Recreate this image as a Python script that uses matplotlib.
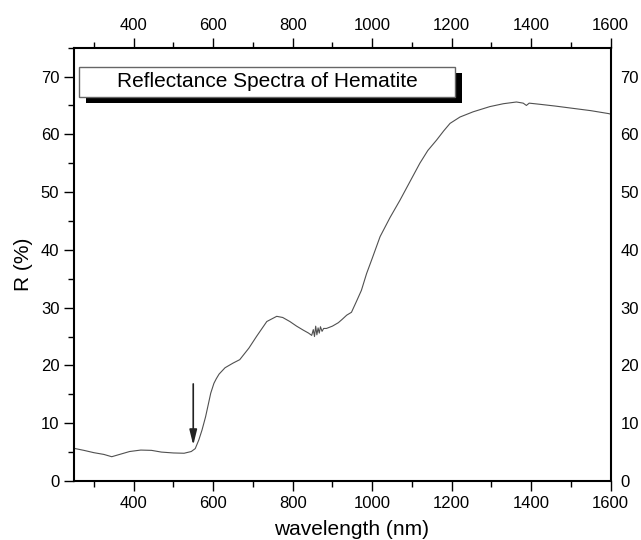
import matplotlib
matplotlib.use("Agg")
import matplotlib.pyplot as plt
from matplotlib.patches import Rectangle
from matplotlib.ticker import MultipleLocator

plt.rcParams['font.family'] = ['Liberation Sans', 'DejaVu Sans']

title = "Reflectance Spectra of Hematite"
x_label = "wavelength (nm)"
y_label = "R (%)"

wavelength = [250, 275, 300, 325, 345, 365, 390, 418, 445, 470, 500, 527, 545, 555,
              564, 572, 581, 588, 594, 602, 608, 615, 630, 650, 667, 690, 709, 735,
              760, 775, 793, 810, 827, 840, 848, 852, 855, 858, 861, 864, 867, 870,
              874, 878, 885, 900, 915, 925, 936, 948, 960, 973, 986, 1000, 1020,
              1045, 1070, 1095, 1120, 1140, 1162, 1180, 1196, 1221, 1254, 1296,
              1330, 1363, 1380, 1388, 1395, 1422, 1460, 1505, 1550, 1594, 1600]
reflectance = [5.65, 5.3, 4.9, 4.6, 4.2, 4.6, 5.1, 5.35, 5.3, 5.0, 4.85, 4.8, 5.1, 5.6,
               7.1, 8.8, 11.1, 13.3, 15.2, 16.9, 17.7, 18.5, 19.6, 20.4, 21.0, 23.0,
               25.0, 27.6, 28.5, 28.3, 27.6, 26.8, 26.1, 25.6, 25.2, 26.2, 25.0, 26.8,
               25.3, 26.5, 25.6, 26.7, 25.9, 26.4, 26.4, 26.8, 27.4, 28.0, 28.7, 29.2,
               31.0, 33.0, 35.9, 38.5, 42.3, 45.6, 48.6, 51.8, 55.0, 57.2, 59.0, 60.6,
               61.9, 63.0, 63.9, 64.8, 65.3, 65.6, 65.4, 65.0, 65.4, 65.2, 64.9, 64.5,
               64.1, 63.6, 63.5]

arrow_x = 550
arrow_top = 16.8
arrow_tip = 6.2

fig = plt.figure(figsize=(6.41, 5.40), dpi=100)
ax = fig.add_axes([0.1154, 0.1093, 0.8373, 0.8024])

ax.plot(wavelength, reflectance, color='#505050', lw=0.8)
ax.set_xlim(250, 1600)
ax.set_ylim(0, 75)

ax.annotate('', xy=(arrow_x, arrow_tip), xytext=(arrow_x, arrow_top),
            arrowprops=dict(arrowstyle='-|>,head_length=0.65,head_width=0.16',
                            color='#222222', lw=1.2,
                            mutation_scale=14, shrinkA=0, shrinkB=0))

ax.xaxis.set_major_locator(MultipleLocator(200))
ax.xaxis.set_minor_locator(MultipleLocator(100))
ax.yaxis.set_major_locator(MultipleLocator(10))
ax.yaxis.set_minor_locator(MultipleLocator(5))

ax.tick_params(axis='x', which='both', direction='out', top=True, bottom=True,
               labeltop=True, labelbottom=True, labelsize=12, width=1)
ax.tick_params(axis='y', which='both', direction='out', left=True, right=False,
               labelleft=True, labelright=False, labelsize=12, width=1)
ax.tick_params(which='major', length=7)
ax.tick_params(which='minor', length=4)

for s in ax.spines.values():
    s.set_linewidth(1.5)

# Right-hand labels without tick marks
ax2 = ax.twinx()
ax2.set_ylim(ax.get_ylim())
ax2.yaxis.set_major_locator(MultipleLocator(10))
ax2.tick_params(axis='y', which='both', length=0, pad=7, labelsize=12)
for s in ax2.spines.values():
    s.set_visible(False)

ax.set_xlabel(x_label, fontsize=15, labelpad=4)
ax.xaxis.set_label_coords(0.517, -0.091)
ax.set_ylabel(y_label, fontsize=15, labelpad=4)
ax.yaxis.set_label_coords(-0.076, 0.5)

# Title box with shadow
ax.add_patch(Rectangle((0.022, 0.872), 0.701, 0.07, transform=ax.transAxes,
                       facecolor='black', edgecolor='none', zorder=4))
ax.add_patch(Rectangle((0.0093, 0.886), 0.701, 0.0695, transform=ax.transAxes,
                       facecolor='white', edgecolor='#666666', lw=1, zorder=5))
ax.text(0.36, 0.921, title, transform=ax.transAxes, ha='center', va='center',
        fontsize=15, zorder=6)

fig.savefig('out.png', dpi=100)
